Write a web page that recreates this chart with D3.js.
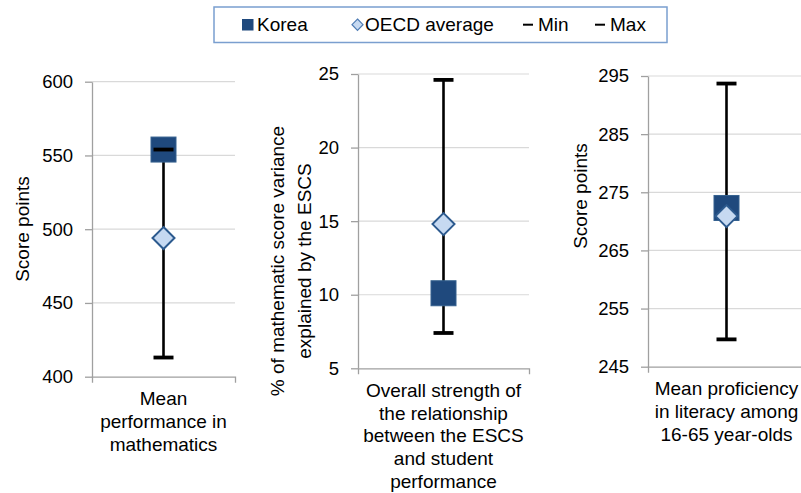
<!DOCTYPE html>
<html>
<head>
<meta charset="utf-8">
<script src="https://cdn.jsdelivr.net/npm/d3@7"></script>
<style>
  html, body { margin: 0; padding: 0; background: #fff; }
  svg { display: block; font-family: "Liberation Sans", Arial, sans-serif; }
</style>
</head>
<body>
<div id="chart"></div>
<script>
// Chart data: one entry per panel
const categories = [
  ['Mean', 'performance in', 'mathematics'],
  ['Overall strength of', 'the relationship', 'between the ESCS', 'and student', 'performance'],
  ['Mean proficiency', 'in literacy among', '16-65 year-olds']
];
const yTitles = [
  ['Score points'],
  ['% of mathematic score variance', 'explained by the ESCS'],
  ['Score points']
];
const koreaValues = [554, 10.1, 272.3];
const oecdValues = [494, 14.8, 270.9];
const minValues = [413, 7.4, 249.7];
const maxValues = [554, 24.6, 293.7];
const yDomains = [[400, 600], [5, 25], [245, 295]];
const yTicks = [
  [400, 450, 500, 550, 600],
  [5, 10, 15, 20, 25],
  [245, 255, 265, 275, 285, 295]
];
const legendLabels = ['Korea', 'OECD average', 'Min', 'Max'];

// Colours
const koreaColor = '#1F497D';
const oecdFill = '#C6D9F1';
const oecdStroke = '#2C5A8E';
const gridColor = '#D9D9D9';
const axisColor = '#A0A0A0';

const width = 801, height = 493;
const fontSize = 19;

// Plot frames of the three panels (pixels)
const frames = [
  { left: 92, right: 235, top: 81.7, bottom: 376.7, titleX: [22], titleY: 229 },
  { left: 358, right: 529, top: 74, bottom: 368.3, titleX: [277, 304], titleY: 261 },
  { left: 648, right: 805, top: 76, bottom: 366.7, titleX: [580], titleY: 196 }
];

const svg = d3.select('#chart').append('svg')
  .attr('width', width)
  .attr('height', height);

frames.forEach((f, i) => {
  const y = d3.scaleLinear().domain(yDomains[i]).range([f.bottom, f.top]);
  const x = d3.scaleBand().domain([i]).range([f.left, f.right]);
  const cx = x(i) + x.bandwidth() / 2;

  // gridlines
  svg.append('g')
    .selectAll('line')
    .data(yTicks[i].slice(1))
    .enter().append('line')
    .attr('x1', f.left).attr('x2', f.right)
    .attr('y1', d => y(d)).attr('y2', d => y(d))
    .attr('stroke', gridColor)
    .attr('stroke-width', 1.2);

  // y axis
  const yAxis = svg.append('g')
    .attr('transform', `translate(${f.left},0)`)
    .call(d3.axisLeft(y).tickValues(yTicks[i]).tickSizeInner(7).tickSizeOuter(0).tickPadding(12).tickFormat(d3.format('d')));
  yAxis.select('.domain').attr('stroke', axisColor).attr('stroke-width', 1.3);
  yAxis.selectAll('.tick line').attr('stroke', axisColor).attr('stroke-width', 1.3);
  yAxis.selectAll('.tick text')
    .attr('font-size', fontSize - 0.5)
    .attr('font-family', '"Liberation Sans", Arial, sans-serif')
    .attr('fill', '#000');

  // x axis
  const xAxis = svg.append('g')
    .attr('transform', `translate(0,${f.bottom})`)
    .call(d3.axisBottom(x).tickSizeInner(0).tickSizeOuter(6).tickFormat(''));
  xAxis.select('.domain').attr('stroke', axisColor).attr('stroke-width', 1.3);

  // category label
  const cat = svg.append('text')
    .attr('text-anchor', 'middle')
    .attr('font-size', fontSize)
    .attr('fill', '#000');
  categories[i].forEach((line, k) => {
    cat.append('tspan')
      .attr('x', cx)
      .attr('y', f.bottom + 28.5 + k * 22.8)
      .text(line);
  });

  // y title
  yTitles[i].forEach((line, k) => {
    svg.append('text')
      .attr('transform', `translate(${f.titleX[k]},${f.titleY}) rotate(-90)`)
      .attr('text-anchor', 'middle')
      .attr('dy', '0.35em')
      .attr('font-size', fontSize)
      .attr('fill', '#000')
      .text(line);
  });

  // whisker from min to max
  svg.append('line')
    .attr('x1', cx).attr('x2', cx)
    .attr('y1', y(minValues[i])).attr('y2', y(maxValues[i]))
    .attr('stroke', '#000')
    .attr('stroke-width', 2.6);

  // Korea square
  const sq = 25;
  svg.append('rect')
    .attr('x', cx - sq / 2).attr('y', y(koreaValues[i]) - sq / 2)
    .attr('width', sq).attr('height', sq)
    .attr('fill', koreaColor)
    .attr('stroke', '#35618F')
    .attr('stroke-width', 1);

  // OECD diamond
  const dm = 11;
  const oy = y(oecdValues[i]);
  svg.append('path')
    .attr('d', `M${cx},${oy - dm}L${cx + dm},${oy}L${cx},${oy + dm}L${cx - dm},${oy}Z`)
    .attr('fill', oecdFill)
    .attr('stroke', oecdStroke)
    .attr('stroke-width', 2);

  // min and max caps
  [minValues[i], maxValues[i]].forEach(v => {
    svg.append('line')
      .attr('x1', cx - 10).attr('x2', cx + 10)
      .attr('y1', y(v)).attr('y2', y(v))
      .attr('stroke', '#000')
      .attr('stroke-width', 3.8);
  });
});

// Legend
const legend = svg.append('g');
legend.append('rect')
  .attr('x', 214).attr('y', 7)
  .attr('width', 453).attr('height', 35.5)
  .attr('fill', '#fff')
  .attr('stroke', '#7A9FCF')
  .attr('stroke-width', 1.5);

const legendX = [257, 365, 538, 610];
legend.append('rect')
  .attr('x', 242).attr('y', 19)
  .attr('width', 11.5).attr('height', 11.5)
  .attr('fill', koreaColor);
legend.append('path')
  .attr('d', 'M357.5,19L363,24.7L357.5,30.4L352,24.7Z')
  .attr('fill', oecdFill)
  .attr('stroke', '#4F7CB4')
  .attr('stroke-width', 1.2);
[legendX[2], legendX[3]].forEach(lx => {
  legend.append('line')
    .attr('x1', lx - 15).attr('x2', lx - 5)
    .attr('y1', 24.7).attr('y2', 24.7)
    .attr('stroke', '#000')
    .attr('stroke-width', 2);
});
legend.selectAll('text.lg')
  .data(legendLabels)
  .enter().append('text')
  .attr('class', 'lg')
  .attr('x', (d, k) => legendX[k])
  .attr('y', 31)
  .attr('font-size', fontSize)
  .attr('fill', '#000')
  .text(d => d);
</script>
</body>
</html>
